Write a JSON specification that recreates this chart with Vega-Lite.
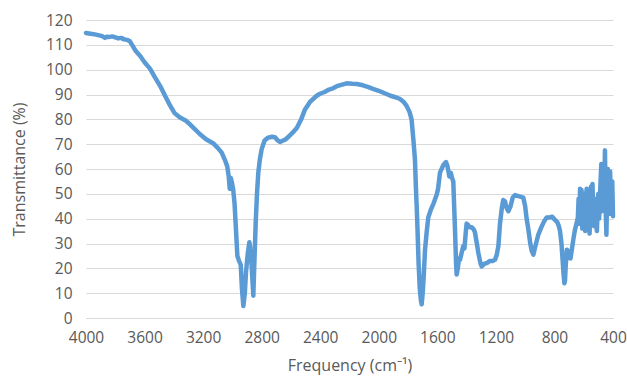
{
  "$schema": "https://vega.github.io/schema/vega-lite/v6.json",
  "autosize": "none",
  "width": 527,
  "height": 298,
  "padding": {"left": 86, "top": 20, "right": 14, "bottom": 60},
  "background": "white",
  "config": {
    "view": {"stroke": null},
    "font": "Open Sans",
    "axis": {"labelColor": "#595959", "titleColor": "#595959", "labelFont": "Open Sans", "titleFont": "Open Sans", "labelFontSize": 15.5, "titleFontSize": 16, "titleFontWeight": "normal", "ticks": false, "domain": false}
  },
  "data": {"values": [
    {"f":4000,"t":114.8},{"f":3970,"t":114.5},{"f":3940,"t":114.2},{"f":3910,"t":113.8},{"f":3890,"t":113.5},{"f":3870,"t":112.8},{"f":3860,"t":113.3},{"f":3840,"t":113.2},{"f":3820,"t":113.4},{"f":3800,"t":113.0},{"f":3780,"t":112.6},{"f":3760,"t":112.8},{"f":3740,"t":112.2},{"f":3720,"t":112.0},{"f":3700,"t":111.4},{"f":3680,"t":109.5},{"f":3660,"t":107.5},{"f":3631,"t":105.6},{"f":3600,"t":103},{"f":3563,"t":100.4},{"f":3530,"t":97},{"f":3494,"t":93.5},{"f":3460,"t":89.5},{"f":3426,"t":85.6},{"f":3395,"t":82.5},{"f":3358,"t":80.7},{"f":3320,"t":79.5},{"f":3290,"t":78.0},{"f":3255,"t":76},{"f":3221,"t":74},{"f":3180,"t":72},{"f":3132,"t":70.4},{"f":3100,"t":68.5},{"f":3073,"t":66.6},{"f":3050,"t":63.5},{"f":3035,"t":61},{"f":3025,"t":57},{"f":3018,"t":52},{"f":3012,"t":56.5},{"f":3005,"t":55},{"f":2995,"t":52},{"f":2985,"t":46},{"f":2975,"t":35},{"f":2966,"t":25},{"f":2955,"t":23},{"f":2943,"t":21.5},{"f":2935,"t":12},{"f":2925,"t":4.8},{"f":2915,"t":10},{"f":2907,"t":18.5},{"f":2895,"t":26},{"f":2884,"t":30.5},{"f":2875,"t":27},{"f":2868,"t":20.5},{"f":2862,"t":14},{"f":2857,"t":9},{"f":2850,"t":22},{"f":2841,"t":38},{"f":2832,"t":50},{"f":2823,"t":58.5},{"f":2812,"t":64},{"f":2800,"t":68},{"f":2780,"t":71.5},{"f":2760,"t":72.5},{"f":2730,"t":73},{"f":2709,"t":72.8},{"f":2690,"t":71.5},{"f":2675,"t":70.9},{"f":2660,"t":71.3},{"f":2640,"t":71.8},{"f":2620,"t":72.8},{"f":2590,"t":74.5},{"f":2560,"t":76.5},{"f":2530,"t":80},{"f":2504,"t":84},{"f":2470,"t":87},{"f":2424,"t":89.5},{"f":2401,"t":90.3},{"f":2370,"t":91},{"f":2340,"t":92},{"f":2313,"t":92.5},{"f":2280,"t":93.5},{"f":2250,"t":94},{"f":2219,"t":94.5},{"f":2180,"t":94.3},{"f":2150,"t":94.2},{"f":2108,"t":93.7},{"f":2070,"t":93},{"f":2040,"t":92.3},{"f":2000,"t":91.5},{"f":1960,"t":90.5},{"f":1920,"t":89.5},{"f":1880,"t":88.8},{"f":1855,"t":88.2},{"f":1830,"t":87},{"f":1810,"t":85.4},{"f":1790,"t":83},{"f":1776,"t":80},{"f":1764,"t":72},{"f":1753,"t":64},{"f":1746,"t":52},{"f":1741,"t":45},{"f":1735,"t":35},{"f":1728,"t":22},{"f":1720,"t":12},{"f":1712,"t":7},{"f":1707,"t":5.5},{"f":1700,"t":10},{"f":1692,"t":18},{"f":1684,"t":27.5},{"f":1672,"t":35},{"f":1662,"t":40.5},{"f":1645,"t":43.5},{"f":1627,"t":46},{"f":1605,"t":49.5},{"f":1595,"t":52},{"f":1582,"t":58.5},{"f":1560,"t":61.5},{"f":1541,"t":62.8},{"f":1530,"t":61},{"f":1518,"t":57},{"f":1508,"t":58.5},{"f":1500,"t":56.5},{"f":1491,"t":55},{"f":1485,"t":45},{"f":1479,"t":35},{"f":1472,"t":22},{"f":1468,"t":17.5},{"f":1460,"t":20},{"f":1452,"t":24},{"f":1445,"t":23.5},{"f":1435,"t":26},{"f":1423,"t":29},{"f":1415,"t":28},{"f":1405,"t":35},{"f":1400,"t":38},{"f":1390,"t":37.5},{"f":1380,"t":36.5},{"f":1365,"t":36.5},{"f":1350,"t":35.5},{"f":1343,"t":34.5},{"f":1330,"t":30},{"f":1320,"t":26.2},{"f":1305,"t":22},{"f":1297,"t":20.8},{"f":1280,"t":21.8},{"f":1260,"t":22.2},{"f":1240,"t":23},{"f":1220,"t":23},{"f":1206,"t":23.5},{"f":1194,"t":25.5},{"f":1183,"t":29},{"f":1172,"t":38},{"f":1160,"t":44},{"f":1150,"t":47.5},{"f":1138,"t":47},{"f":1128,"t":44.5},{"f":1115,"t":43},{"f":1100,"t":45},{"f":1085,"t":48.5},{"f":1069,"t":49.5},{"f":1040,"t":49},{"f":1013,"t":48.5},{"f":1000,"t":45},{"f":990,"t":40},{"f":978,"t":35.6},{"f":965,"t":30},{"f":955,"t":27},{"f":944,"t":25.5},{"f":930,"t":29},{"f":910,"t":33.6},{"f":890,"t":36.5},{"f":870,"t":39},{"f":853,"t":40.5},{"f":835,"t":40.5},{"f":815,"t":40.8},{"f":796,"t":39.5},{"f":780,"t":38.5},{"f":770,"t":37},{"f":762,"t":35},{"f":752,"t":30},{"f":745,"t":24},{"f":738,"t":18},{"f":732,"t":14},{"f":728,"t":15},{"f":722,"t":22},{"f":715,"t":27.5},{"f":708,"t":27},{"f":700,"t":24.2},{"f":690,"t":24},{"f":680,"t":28},{"f":670,"t":32},{"f":660,"t":35.5},{"f":648,"t":38.3},{"f":640,"t":40.5},{"f":635,"t":48},{"f":630,"t":38},{"f":625,"t":52},{"f":620,"t":41},{"f":615,"t":51.5},{"f":610,"t":36},{"f":605,"t":45},{"f":600,"t":50},{"f":595,"t":40},{"f":590,"t":35},{"f":585,"t":47},{"f":580,"t":52},{"f":575,"t":38},{"f":570,"t":49},{"f":565,"t":42},{"f":560,"t":34},{"f":555,"t":45},{"f":550,"t":53},{"f":545,"t":46},{"f":540,"t":54},{"f":535,"t":40},{"f":530,"t":37},{"f":525,"t":47},{"f":520,"t":48},{"f":515,"t":38},{"f":510,"t":35},{"f":505,"t":44},{"f":500,"t":50},{"f":495,"t":40},{"f":490,"t":47},{"f":485,"t":55},{"f":480,"t":62},{"f":475,"t":43},{"f":470,"t":52},{"f":465,"t":60},{"f":460,"t":48},{"f":455,"t":67.5},{"f":450,"t":44},{"f":445,"t":33.5},{"f":440,"t":50},{"f":435,"t":60},{"f":430,"t":45},{"f":425,"t":42},{"f":420,"t":59},{"f":415,"t":50},{"f":410,"t":42},{"f":405,"t":55},{"f":400,"t":41}
  ]},
  "mark": {"type": "line", "color": "#5B9BD5", "strokeWidth": 4.5, "strokeCap": "round", "strokeJoin": "round", "clip": false},
  "encoding": {
    "x": {"field": "f", "type": "quantitative", "sort": null, "scale": {"domain": [400, 4000], "reverse": true, "nice": false, "zero": false},
      "axis": {"values": [4000, 3600, 3200, 2800, 2400, 2000, 1600, 1200, 800, 400], "format": "d", "grid": false, "labelPadding": 12, "title": "Frequency (cm⁻¹)", "titlePadding": 12, "labelFlush": false, "domain": true, "domainColor": "#D9D9D9"}},
    "y": {"field": "t", "type": "quantitative", "scale": {"domain": [0, 120], "nice": false},
      "axis": {"values": [0, 10, 20, 30, 40, 50, 60, 70, 80, 90, 100, 110, 120], "format": "d", "grid": true, "gridColor": "#D9D9D9", "gridWidth": 1.2, "labelPadding": 14, "title": "Transmittance (%)", "titlePadding": 18}},
    "order": {"field": "f", "type": "quantitative", "sort": "descending"}
  }
}
